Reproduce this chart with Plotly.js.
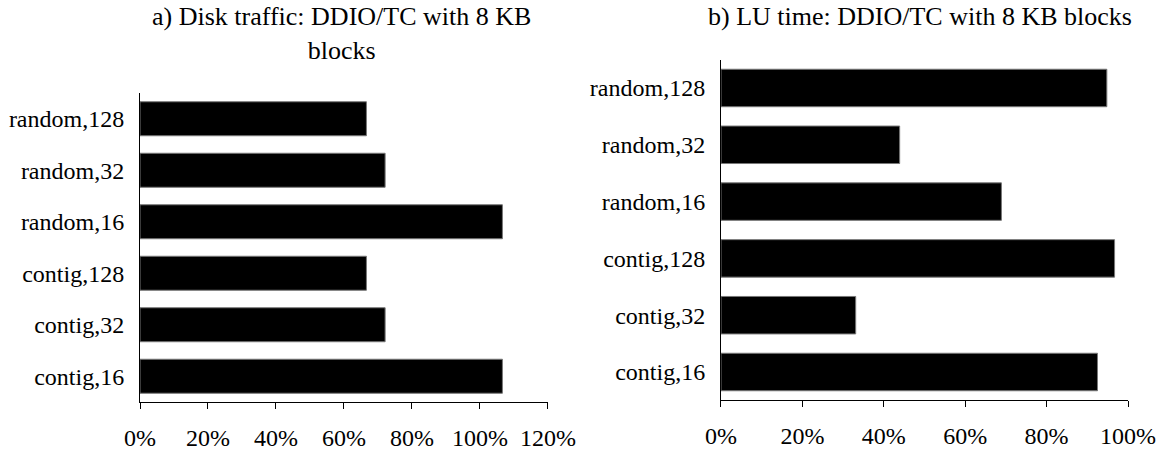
<!DOCTYPE html>
<html>
<head>
<meta charset="utf-8">
<script src="https://cdn.plot.ly/plotly-3.0.1.min.js"></script>
<style>html,body{margin:0;padding:0;background:#fff;}#chart{width:1158px;height:450px;}</style>
</head>
<body>
<div id="chart"></div>
<script>
const categories = ["contig,16", "contig,32", "contig,128", "random,16", "random,32", "random,128"];
const diskTraffic = [106.6, 72.1, 66.6, 106.6, 72.1, 66.6];
const luTime = [92.5, 33.1, 96.7, 68.9, 43.9, 94.8];
const titleA = "a) Disk traffic: DDIO/TC with 8 KB<br>blocks";
const titleB = "b) LU time: DDIO/TC with 8 KB blocks";
const xTicksA = [0, 20, 40, 60, 80, 100, 120];
const xTicksB = [0, 20, 40, 60, 80, 100];

const family = "Liberation Serif, Times New Roman, serif";
const tickFont = {family: family, size: 24, color: "#000"};
const titleFont = {family: family, size: 26, color: "#000"};
const barStyle = {color: "#000", line: {color: "#777", width: 1}};

const traces = [
  {type: "bar", orientation: "h", y: categories, x: diskTraffic, marker: barStyle, xaxis: "x", yaxis: "y", hoverinfo: "x+y"},
  {type: "bar", orientation: "h", y: categories, x: luTime, marker: barStyle, xaxis: "x2", yaxis: "y2", hoverinfo: "x+y"}
];

function xax(domain, ticks, anchor) {
  return {
    domain: domain, anchor: anchor, range: [0, ticks[ticks.length - 1]],
    tickvals: ticks, ticktext: ticks.map(v => v + "%"),
    showgrid: false, zeroline: false, showline: true, linecolor: "#000", linewidth: 1,
    ticks: "outside", ticklen: 6, tickcolor: "#000", tickwidth: 1,
    ticklabelstandoff: 8, tickfont: tickFont, fixedrange: true
  };
}
function yax(domain, anchor) {
  return {
    domain: domain, anchor: anchor, type: "category", categoryorder: "array", categoryarray: categories,
    range: [-0.5, 5.5], showgrid: false, zeroline: false, showline: true, linecolor: "#000", linewidth: 1,
    ticks: "", ticklabelstandoff: 10, tickfont: tickFont, fixedrange: true
  };
}

const layout = {
  width: 1158, height: 450,
  margin: {l: 0, r: 0, t: 0, b: 0},
  paper_bgcolor: "#fff", plot_bgcolor: "#fff",
  showlegend: false, bargap: 0.34,
  font: tickFont,
  xaxis: xax([0.1209, 0.4732], xTicksA, "y"),
  yaxis: yax([0.1067, 0.7933], "x"),
  xaxis2: xax([0.6226, 0.9741], xTicksB, "y2"),
  yaxis2: yax([0.1102, 0.8676], "x2"),
  annotations: [
    {text: titleA, xref: "paper", yref: "paper", x: 341 / 1158, y: 1 - 33 / 450, xanchor: "center", yanchor: "middle", showarrow: false, font: titleFont, align: "center"},
    {text: titleB, xref: "paper", yref: "paper", x: 920 / 1158, y: 1 - 16 / 450, xanchor: "center", yanchor: "middle", showarrow: false, font: titleFont, align: "center"}
  ]
};

Plotly.newPlot("chart", traces, layout, {displayModeBar: false, staticPlot: true});
</script>
</body>
</html>
